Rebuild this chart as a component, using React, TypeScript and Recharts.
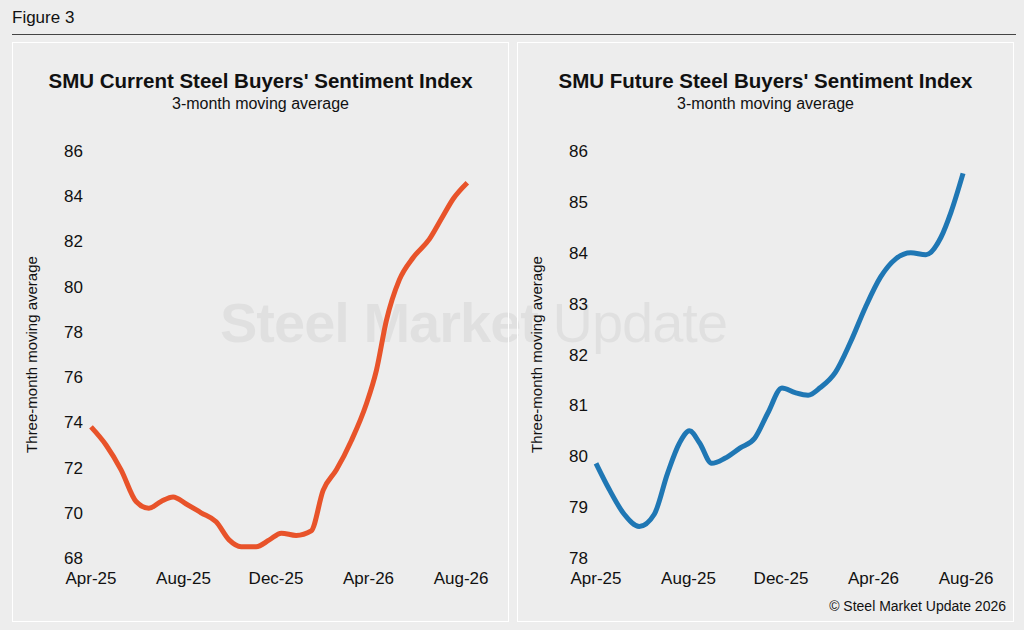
import { LineChart, Line, XAxis, YAxis } from 'recharts';

// month offsets from Apr-25
const currentMonths = [0, 0.65, 1.3, 1.95, 2.5, 3.03, 3.55, 4.1, 4.76, 5.41, 5.97, 6.49, 7.14, 7.71, 8.23, 8.87, 9.52, 10.04, 10.61, 11.26, 11.9, 12.34, 12.77, 13.33, 13.94, 14.63, 15.15, 15.67, 16.27];
const currentValues = [73.8, 73.0, 71.9, 70.5, 70.2, 70.5, 70.7, 70.4, 70.0, 69.6, 68.8, 68.5, 68.5, 68.8, 69.1, 69.0, 69.2, 71.0, 71.9, 73.2, 74.8, 76.3, 78.5, 80.3, 81.3, 82.1, 83.0, 83.9, 84.6];

const futureMonths = [0, 0.57, 1.22, 1.87, 2.52, 3.09, 3.61, 4.04, 4.48, 5.0, 5.57, 6.22, 6.87, 7.43, 8.04, 8.61, 9.17, 9.7, 10.35, 11.0, 11.65, 12.3, 12.96, 13.61, 14.26, 14.91, 15.35, 15.87];
const futureValues = [79.86, 79.35, 78.86, 78.62, 78.86, 79.66, 80.26, 80.5, 80.26, 79.86, 79.96, 80.16, 80.36, 80.85, 81.34, 81.25, 81.2, 81.35, 81.65, 82.24, 82.93, 83.52, 83.88, 84.0, 83.96, 84.3, 84.8, 85.56];

const xTicks = [0, 4, 8, 12, 16];
const xLabels = ['Apr-25', 'Aug-25', 'Dec-25', 'Apr-26', 'Aug-26'];
const currentTicks = [68, 70, 72, 74, 76, 78, 80, 82, 84, 86];
const futureTicks = [78, 79, 80, 81, 82, 83, 84, 85, 86];

const FONT = '"Liberation Sans", Arial, sans-serif';

function Panel({ left, title, months, values, ticks, domain, color }: {
    left: number; title: string; months: number[]; values: number[];
    ticks: number[]; domain: [number, number]; color: string;
}) {
    const data = months.map((m, i) => ({ m, v: values[i] }));
    return (
        <div style={{ position: 'absolute', left, top: 42, width: 497, height: 580, border: '1px solid #fff', boxSizing: 'border-box' }}>
            <div style={{ position: 'absolute', top: 26, width: '100%', textAlign: 'center', fontWeight: 'bold', fontSize: 20.5, color: '#111' }}>{title}</div>
            <div style={{ position: 'absolute', top: 52, width: '100%', textAlign: 'center', fontSize: 16, color: '#111' }}>3-month moving average</div>
            <div style={{ position: 'absolute', top: 90 }}>
                <LineChart width={497} height={480} data={data} margin={{ top: 18, right: 42, left: 18, bottom: 25 }}>
                    <XAxis dataKey="m" type="number" domain={[0, 16.3]} ticks={xTicks}
                        tickFormatter={(v) => xLabels[xTicks.indexOf(v)]}
                        axisLine={false} tickLine={false} height={30} dy={6}
                        tick={{ fontSize: 17, fill: '#111', fontFamily: FONT }} />
                    <YAxis type="number" domain={domain} ticks={ticks} axisLine={false} tickLine={false}
                        width={60} interval={0}
                        tick={{ fontSize: 17, fill: '#111', fontFamily: FONT }}
                        label={{ value: 'Three-month moving average', angle: -90, position: 'insideLeft', dx: -4, dy: 0, style: { textAnchor: 'middle', fontSize: 15, fill: '#111', fontFamily: FONT } }} />
                    <Line type="monotone" dataKey="v" stroke={color} strokeWidth={5} dot={false} isAnimationActive={false} />
                </LineChart>
            </div>
        </div>
    );
}

export default function App() {
    return (
        <div style={{ position: 'absolute', left: 0, top: 0, width: 1024, height: 630, background: '#ededed', fontFamily: FONT }}>
            <div style={{ position: 'absolute', left: 12, top: 8, fontSize: 17, color: '#111' }}>Figure 3</div>
            <div style={{ position: 'absolute', left: 12, top: 34, width: 1004, height: 1, background: '#444' }} />
            <div style={{ position: 'absolute', left: 220, top: 290, fontSize: 56, color: 'rgba(0,0,0,0.05)', whiteSpace: 'nowrap', letterSpacing: -1 }}>
                <b>Steel Market</b> Update
            </div>
            <Panel left={12} title="SMU Current Steel Buyers' Sentiment Index" months={currentMonths} values={currentValues}
                ticks={currentTicks} domain={[68, 86]} color="#e8532a" />
            <Panel left={517} title="SMU Future Steel Buyers' Sentiment Index" months={futureMonths} values={futureValues}
                ticks={futureTicks} domain={[78, 86]} color="#1f77b4" />
            <div style={{ position: 'absolute', right: 18, top: 598, fontSize: 14, color: '#111' }}>© Steel Market Update 2026</div>
        </div>
    );
}
